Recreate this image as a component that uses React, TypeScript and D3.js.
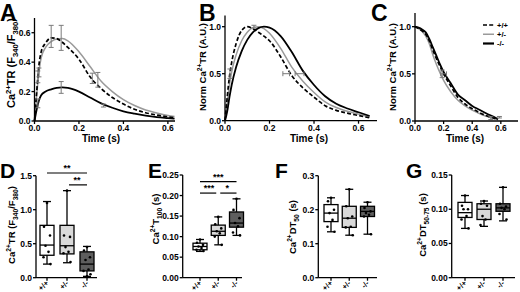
import React from 'react';
import * as d3 from 'd3';

const FONT = '"Liberation Sans", Arial, Helvetica, sans-serif';

const genotypes = ['+/+', '+/-', '-/-'];

// ---------- Panel A: Ca2+ transients (ratio) ----------
const timeA = [0, 0.01, 0.02, 0.03, 0.05, 0.075, 0.1, 0.125, 0.15, 0.2, 0.25, 0.3, 0.35, 0.4, 0.45, 0.5, 0.55, 0.6, 0.63];
const traceA_WT = [0, 0.2, 0.38, 0.47, 0.53, 0.565, 0.56, 0.535, 0.5, 0.42, 0.3, 0.22, 0.16, 0.115, 0.08, 0.056, 0.04, 0.028, 0.022];
const traceA_Het = [0, 0.18, 0.33, 0.43, 0.5, 0.54, 0.558, 0.56, 0.545, 0.47, 0.37, 0.27, 0.2, 0.145, 0.105, 0.075, 0.055, 0.038, 0.03];
const traceA_KO = [0, 0.08, 0.14, 0.175, 0.2, 0.215, 0.225, 0.228, 0.225, 0.2, 0.16, 0.12, 0.09, 0.066, 0.05, 0.037, 0.027, 0.02, 0.016];
// [genotype index, time, value, error, direction]
const errA: [number, number, number, number, string][] = [
  [0, 0.015, 0.3, 0.04, 'v'], [0, 0.075, 0.575, 0.075, 'v'], [0, 0.26, 0.29, 0.035, 'v'],
  [1, 0.02, 0.33, 0.03, 'v'], [1, 0.12, 0.565, 0.085, 'v'], [1, 0.285, 0.28, 0.05, 'v'],
  [2, 0.015, 0.12, 0.03, 'v'], [2, 0.12, 0.228, 0.04, 'v'], [2, 0.31, 0.105, 0.01, 'v'],
];

// ---------- Panel B: normalized transients ----------
const timeB = [0, 0.01, 0.02, 0.03, 0.05, 0.075, 0.1, 0.125, 0.15, 0.175, 0.2, 0.25, 0.3, 0.35, 0.4, 0.45, 0.5, 0.55, 0.6, 0.65];
const traceB_WT = [0, 0.25, 0.47, 0.62, 0.82, 0.96, 1.0, 0.98, 0.94, 0.9, 0.85, 0.68, 0.48, 0.35, 0.25, 0.16, 0.11, 0.08, 0.055, 0.03];
const traceB_Het = [0, 0.2, 0.38, 0.52, 0.7, 0.85, 0.94, 0.99, 1.0, 0.98, 0.93, 0.77, 0.57, 0.42, 0.3, 0.2, 0.14, 0.1, 0.07, 0.04];
const traceB_KO = [0, 0.1, 0.25, 0.38, 0.57, 0.74, 0.86, 0.94, 0.985, 1.0, 0.99, 0.9, 0.73, 0.53, 0.38, 0.26, 0.18, 0.13, 0.09, 0.05];
const errB: [number, number, number, number, string][] = [
  [0, 0.022, 0.5, 0.05, 'v'], [1, 0.13, 1.0, 0.015, 'v'],
  [1, 0.275, 0.5, 0.015, 'h'], [2, 0.335, 0.5, 0.02, 'h'],
];

// ---------- Panel C: normalized decay ----------
const timeC = [0, 0.025, 0.05, 0.075, 0.1, 0.125, 0.15, 0.175, 0.2, 0.25, 0.3, 0.35, 0.4, 0.45, 0.5, 0.55, 0.58];
const traceC_WT = [1.0, 0.98, 0.955, 0.92, 0.85, 0.75, 0.66, 0.58, 0.5, 0.37, 0.25, 0.18, 0.13, 0.09, 0.055, 0.03, 0.015];
const traceC_Het = [1.0, 0.98, 0.95, 0.9, 0.82, 0.7, 0.6, 0.51, 0.43, 0.31, 0.22, 0.16, 0.115, 0.08, 0.05, 0.028, 0.015];
const traceC_KO = [1.0, 0.99, 0.97, 0.94, 0.87, 0.78, 0.69, 0.6, 0.52, 0.4, 0.28, 0.22, 0.16, 0.12, 0.08, 0.045, 0.02];
const errC: [number, number, number, number, string][] = [
  [1, 0.19, 0.5, 0.04, 'v'], [2, 0.2, 0.5, 0.02, 'h'], [1, 0.53, 0.03, 0.015, 'v'], [1, 0.59, 0.04, 0.008, 'v'],
];

// ---------- Box plots: [min, q1, median, q3, max] ----------
const boxD = [[0.2, 0.33, 0.48, 0.77, 1.12], [0.22, 0.35, 0.47, 0.77, 1.28], [0.02, 0.1, 0.2, 0.38, 0.46]];
const ptsD = [[1.1, 0.75, 0.62, 0.47, 0.38, 0.3, 0.2], [1.28, 0.62, 0.6, 0.45, 0.38, 0.36, 0.23], [0.45, 0.4, 0.3, 0.26, 0.12, 0.1, 0.05, 0.02]];
const boxE = [[0.064, 0.068, 0.076, 0.084, 0.093], [0.08, 0.103, 0.113, 0.128, 0.148], [0.103, 0.123, 0.133, 0.16, 0.192]];
const ptsE = [[0.093, 0.085, 0.08, 0.076, 0.072, 0.068, 0.065], [0.148, 0.13, 0.12, 0.113, 0.108, 0.1, 0.08], [0.192, 0.165, 0.145, 0.133, 0.125, 0.11, 0.103]];
const boxF = [[0.135, 0.165, 0.19, 0.215, 0.235], [0.125, 0.148, 0.175, 0.21, 0.26], [0.128, 0.18, 0.195, 0.21, 0.222]];
const ptsF = [[0.235, 0.225, 0.2, 0.19, 0.17, 0.15, 0.135], [0.26, 0.21, 0.18, 0.175, 0.15, 0.148, 0.125], [0.222, 0.205, 0.195, 0.19, 0.185, 0.18, 0.128]];
const boxG = [[0.072, 0.088, 0.095, 0.11, 0.12], [0.075, 0.085, 0.1, 0.108, 0.112], [0.083, 0.097, 0.102, 0.108, 0.132]];
const ptsG = [[0.12, 0.105, 0.1, 0.1, 0.09, 0.085, 0.072], [0.112, 0.108, 0.105, 0.09, 0.085, 0.077], [0.132, 0.108, 0.104, 0.102, 0.1, 0.093, 0.085]];
// significance: [from, to, level, label]
const sigD: [number, number, number, string][] = [[0, 2, 1.54, '**'], [1, 2, 1.365, '**']];
const sigE: [number, number, number, string][] = [[0, 2, 0.234, '***'], [0, 1, 0.206, '***'], [1, 2, 0.206, '*']];

const seriesStyle = [
  { stroke: '#000', dash: '4,2.2', w: 1.7 },
  { stroke: '#9a9a9a', dash: null, w: 1.5 },
  { stroke: '#000', dash: null, w: 1.8 },
];
const boxFill = ['#ffffff', '#d9d9d9', '#5e5e5e'];

type Part = [string, string];
function rich(parts: Part[], size: number) {
  let cur = 0;
  return parts.map(([t, k], i) => {
    const target = k === 'sup' ? -size * 0.4 : k === 'sub' ? size * 0.28 : 0;
    const dy = target - cur;
    cur = target;
    return (
      <tspan key={i} dy={dy} fontSize={k === 'n' ? size : size * 0.7}>{t}</tspan>
    );
  });
}

const labRatio: Part[] = [['Ca', 'n'], ['2+', 'sup'], ['TR (F', 'n'], ['340', 'sub'], ['/F', 'n'], ['380', 'sub'], [')', 'n']];
const labNorm: Part[] = [['Norm Ca', 'n'], ['2+', 'sup'], ['TR (A.U.)', 'n']];
const labT100: Part[] = [['Ca', 'n'], ['2+', 'sup'], ['T', 'n'], ['100', 'sub'], [' (s)', 'n']];
const labDT50: Part[] = [['Ca', 'n'], ['2+', 'sup'], ['DT', 'n'], ['50', 'sub'], [' (s)', 'n']];
const labDT5075: Part[] = [['Ca', 'n'], ['2+', 'sup'], ['DT', 'n'], ['50-75', 'sub'], [' (s)', 'n']];

const topPanels = [
  { letter: 'A', lx: 0, xr: [34.5, 175], xd: [0, 0.632], yr: [121, 18], yd: [0, 0.7], yt: [0, 0.2, 0.4, 0.6],
    time: timeA, series: [traceA_WT, traceA_Het, traceA_KO], err: errA, ylab: labRatio, ylSize: 11, ylx: 15, yly: 63, xlx: 101 },
  { letter: 'B', lx: 199, xr: [225, 377], xd: [0, 0.683], yr: [120.7, 15.4], yd: [0, 1.12], yt: [0, 0.5, 1.0],
    time: timeB, series: [traceB_WT, traceB_Het, traceB_KO], err: errB, ylab: labNorm, ylSize: 9.5, ylx: 205.5, yly: 67, xlx: 309 },
  { letter: 'C', lx: 371, xr: [415, 518], xd: [0, 0.72], yr: [121, 13], yd: [0, 1.145], yt: [0, 0.5, 1.0],
    time: timeC, series: [traceC_WT, traceC_Het, traceC_KO], err: errC, ylab: labNorm, ylSize: 9.5, ylx: 395.5, yly: 67, xlx: 465 },
];

const boxPanels = [
  { letter: 'D', lx: 0, ax: 36, axEnd: 97, centers: [47, 87], yTop: 175.7, yd: [0, 1.5], yt: [0, 0.5, 1.0, 1.5], fmt: '.1f',
    box: boxD, pts: ptsD, sig: sigD, ylab: labRatio, ylx: 15, yly: 225 },
  { letter: 'E', lx: 148, ax: 182.7, axEnd: 242, centers: [200, 236.5], yTop: 175, yd: [0, 0.25], yt: [0, 0.05, 0.1, 0.15, 0.2, 0.25], fmt: '.2f',
    box: boxE, pts: ptsE, sig: sigE, ylab: labT100, ylx: 159, yly: 219 },
  { letter: 'F', lx: 275, ax: 318.3, axEnd: 377, centers: [331, 367.5], yTop: 175.7, yd: [0, 0.3], yt: [0, 0.1, 0.2, 0.3], fmt: '.1f',
    box: boxF, pts: ptsF, sig: [], ylab: labDT50, ylx: 296, yly: 227 },
  { letter: 'G', lx: 406, ax: 451.7, axEnd: 515, centers: [465, 503], yTop: 175, yd: [0, 0.15], yt: [0, 0.05, 0.1, 0.15], fmt: '.2f',
    box: boxG, pts: ptsG, sig: [], ylab: labDT5075, ylx: 426, yly: 225 },
];

const AX = { stroke: '#000', strokeWidth: 1.3 };
const TICK_FS = 8.5;

function TracePanel({ p }: { p: any }) {
  const x = d3.scaleLinear().domain(p.xd).range(p.xr);
  const y = d3.scaleLinear().domain(p.yd).range(p.yr);
  const xTicks = d3.range(0, p.xd[1] + 1e-9, 0.2);
  const fmt = d3.format('.1f');
  const order = [1, 2, 0];
  return (
    <g fontFamily={FONT} fontWeight="bold">
      <text x={p.lx} y={21} fontSize={23}>{p.letter}</text>
      {order.map((si) => {
        const st = seriesStyle[si];
        const line = d3.line<number>().x((_, i) => x(p.time[i])).y((d) => y(d)).curve(d3.curveMonotoneX);
        return (
          <path key={si} d={line(p.series[si]) || ''} fill="none" stroke={st.stroke} strokeWidth={st.w}
            strokeDasharray={st.dash || undefined} />
        );
      })}
      {p.err.map(([g, t, v, e, dir]: any, i: number) => {
        const col = '#7a7a7a';
        if (dir === 'v') {
          const cx = x(t), y1 = y(v - e), y2 = y(v + e);
          return (
            <g key={i} stroke={col} strokeWidth={1}>
              <line x1={cx} x2={cx} y1={y1} y2={y2} />
              <line x1={cx - 2.5} x2={cx + 2.5} y1={y1} y2={y1} />
              <line x1={cx - 2.5} x2={cx + 2.5} y1={y2} y2={y2} />
            </g>
          );
        }
        const cy = y(v), x1 = x(t - e), x2 = x(t + e);
        return (
          <g key={i} stroke={col} strokeWidth={1}>
            <line x1={x1} x2={x2} y1={cy} y2={cy} />
            <line x1={x1} x2={x1} y1={cy - 2.5} y2={cy + 2.5} />
            <line x1={x2} x2={x2} y1={cy - 2.5} y2={cy + 2.5} />
          </g>
        );
      })}
      <line x1={p.xr[0]} x2={p.xr[0]} y1={p.yr[0]} y2={p.yr[1]} {...AX} />
      <line x1={p.xr[0]} x2={p.xr[1]} y1={p.yr[0]} y2={p.yr[0]} {...AX} />
      {p.yt.map((v: number) => (
        <g key={v}>
          <line x1={p.xr[0] - 3} x2={p.xr[0]} y1={y(v)} y2={y(v)} {...AX} />
          <text x={p.xr[0] - 4} y={y(v)} dy="0.35em" textAnchor="end" fontSize={TICK_FS}>{fmt(v)}</text>
        </g>
      ))}
      {xTicks.map((v: number) => (
        <g key={v}>
          <line x1={x(v)} x2={x(v)} y1={p.yr[0]} y2={p.yr[0] + 3} {...AX} />
          <text x={x(v)} y={p.yr[0] + 10} textAnchor="middle" fontSize={TICK_FS}>{fmt(v)}</text>
        </g>
      ))}
      <text x={p.xlx} y={142} textAnchor="middle" fontSize={10}>Time (s)</text>
      <text transform={`translate(${p.ylx},${p.yly}) rotate(-90)`} textAnchor="middle" fontSize={p.ylSize}>
        {rich(p.ylab, p.ylSize)}
      </text>
    </g>
  );
}

function BoxPanel({ p }: { p: any }) {
  const base = 277.7;
  const x = d3.scalePoint().domain(genotypes).range(p.centers);
  const y = d3.scaleLinear().domain(p.yd).range([base, p.yTop]);
  const fmt = d3.format(p.fmt);
  const bw = 14, cap = 4;
  const jitter = [0, -3, 3, -1.5, 1.5, -3.5, 3.5, 0];
  return (
    <g fontFamily={FONT} fontWeight="bold">
      <text x={p.lx} y={178} fontSize={21}>{p.letter}</text>
      {genotypes.map((g, gi) => {
        const [mn, q1, md, q3, mx] = p.box[gi];
        const cx = x(g) as number;
        return (
          <g key={g} stroke="#000" strokeWidth={1.3}>
            <line x1={cx} x2={cx} y1={y(mn)} y2={y(q1)} />
            <line x1={cx} x2={cx} y1={y(q3)} y2={y(mx)} />
            <line x1={cx - cap} x2={cx + cap} y1={y(mn)} y2={y(mn)} />
            <line x1={cx - cap} x2={cx + cap} y1={y(mx)} y2={y(mx)} />
            <rect x={cx - bw / 2} y={y(q3)} width={bw} height={y(q1) - y(q3)} fill={boxFill[gi]} />
            <line x1={cx - bw / 2} x2={cx + bw / 2} y1={y(md)} y2={y(md)} />
            {p.pts[gi].map((v: number, i: number) => (
              <circle key={i} cx={cx + jitter[i % jitter.length]} cy={y(v)} r={1.3} fill="#000" stroke="none" />
            ))}
          </g>
        );
      })}
      {p.sig.map(([a, b, lvl, lab]: any, i: number) => {
        const x1 = x(genotypes[a]) as number, x2 = x(genotypes[b]) as number;
        return (
          <g key={i}>
            <line x1={x1 + (a > 0 ? 2 : 0)} x2={x2 - (b < 2 ? 2 : 0)} y1={y(lvl)} y2={y(lvl)} stroke="#000" strokeWidth={1.2} />
            <text x={(x1 + x2) / 2} y={y(lvl) - 2} textAnchor="middle" fontSize={9}>{lab}</text>
          </g>
        );
      })}
      <line x1={p.ax} x2={p.ax} y1={base} y2={p.yTop} {...AX} />
      <line x1={p.ax} x2={p.axEnd} y1={base} y2={base} {...AX} />
      {p.yt.map((v: number) => (
        <g key={v}>
          <line x1={p.ax - 3} x2={p.ax} y1={y(v)} y2={y(v)} {...AX} />
          <text x={p.ax - 4} y={y(v)} dy="0.35em" textAnchor="end" fontSize={TICK_FS}>{fmt(v)}</text>
        </g>
      ))}
      {genotypes.map((g) => {
        const cx = x(g) as number;
        return (
          <g key={g}>
            <line x1={cx} x2={cx} y1={base} y2={base + 3} {...AX} />
            <text transform={`translate(${cx + 2},${base + 6}) rotate(-45)`} textAnchor="end" fontSize={7.5}>{g}</text>
          </g>
        );
      })}
      <text transform={`translate(${p.ylx},${p.yly}) rotate(-90)`} textAnchor="middle" fontSize={9.5}>
        {rich(p.ylab, 9.5)}
      </text>
    </g>
  );
}

function Legend() {
  const ly = d3.scalePoint().domain(genotypes).range([25, 43.5]);
  return (
    <g fontFamily={FONT} fontWeight="bold">
      {genotypes.map((g, i) => {
        const st = seriesStyle[i];
        const yy = ly(g) as number;
        return (
          <g key={g}>
            <line x1={483} x2={494} y1={yy} y2={yy} stroke={st.stroke} strokeWidth={i === 2 ? 2.2 : st.w}
              strokeDasharray={st.dash || undefined} />
            <text x={497} y={yy} dy="0.35em" fontSize={7.5}>{g}</text>
          </g>
        );
      })}
    </g>
  );
}

export default function App() {
  return (
    <div style={{ position: 'absolute', left: 0, top: 0 }}>
      <svg width={520} height={292} style={{ display: 'block', background: '#fff' }}>
        {topPanels.map((p) => <TracePanel key={p.letter} p={p} />)}
        <Legend />
        {boxPanels.map((p) => <BoxPanel key={p.letter} p={p} />)}
      </svg>
    </div>
  );
}
